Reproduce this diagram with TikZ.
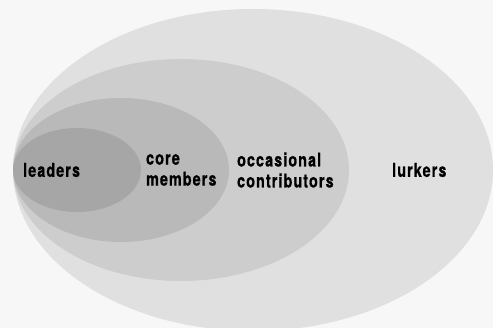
\documentclass[tikz,border=0pt]{standalone}
\usepackage{fontspec}
\newfontfamily\rolefont{TeX Gyre Heros}[FakeStretch=0.75,LetterSpace=6,FakeBold=0.8]

\definecolor{paper}{gray}{0.969}
\definecolor{lurkgray}{gray}{0.878}
\definecolor{occgray}{gray}{0.804}
\definecolor{coregray}{gray}{0.725}
\definecolor{leadgray}{gray}{0.651}

\tikzset{
  role/.style={anchor=west, align=left, inner sep=0pt, text=black,
    font=\rolefont\bfseries\fontsize{19}{21}\selectfont}
}

\begin{document}
\begin{tikzpicture}[x=1pt,y=1pt]
\useasboundingbox (0,0) rectangle (493,328);
\fill [paper] (0,0) rectangle (493,328);

% nested circles, all touching at the left side
\fill [lurkgray] (253,158) ellipse [x radius=240, y radius=161];
\fill [occgray]  (181,158) ellipse [x radius=168, y radius=111];
\fill [coregray] (121,158) ellipse [x radius=108, y radius=72];
\fill [leadgray] (77,158)  ellipse [x radius=64,  y radius=42];

% labels
\node [role] (leaders) at (23,158) {leaders};
\node [role] (core) at (146,158) {core\\members};
\node [role] (occasional) at (237,158) {occasional\\contributors};
\node [role] (lurkers) at (392,158) {lurkers};

\end{tikzpicture}
\end{document}
